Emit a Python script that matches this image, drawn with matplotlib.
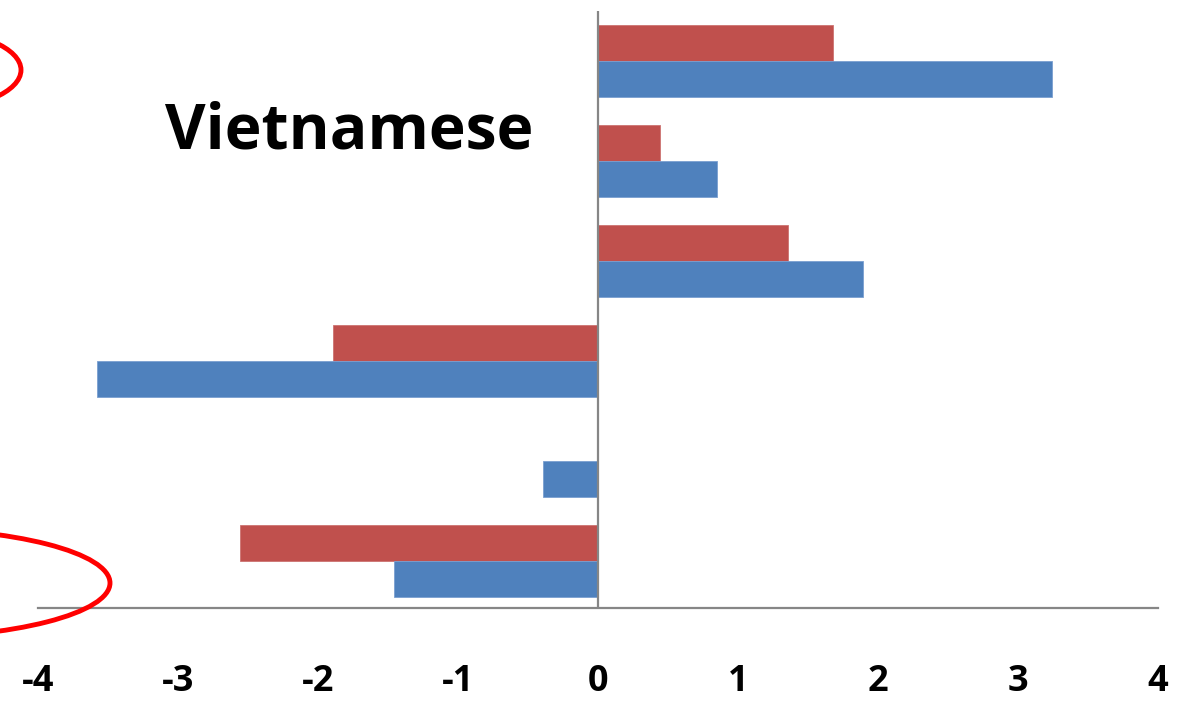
import numpy as np
import matplotlib
matplotlib.use("Agg")
import matplotlib.pyplot as plt
from matplotlib.patches import Ellipse

# valores por categoría (de arriba hacia abajo)
categorias = ["c1", "c2", "c3", "c4", "c5", "c6"]
serie_roja = [1.68, 0.44, 1.36, -1.89, 0.0, -2.56]
serie_azul = [3.24, 0.85, 1.89, -3.58, -0.39, -1.46]
ticks_x = [-4, -3, -2, -1, 0, 1, 2, 3, 4]

rojo = "#C0504D"
azul = "#4F81BD"
gris = "#868686"

W, H = 1180, 707
fig = plt.figure(figsize=(W / 100, H / 100), dpi=100)
ax = fig.add_axes([38 / W, 1 - 608 / H, 1120 / W, 597 / H])

pos = np.arange(len(categorias))
alto = 0.36
ax.barh(pos - alto / 2, serie_roja, height=alto, color=rojo,
        edgecolor="#CD7371", linewidth=0.6, zorder=2)
ax.barh(pos + alto / 2, serie_azul, height=alto, color=azul,
        edgecolor="#7A9FD0", linewidth=0.6, zorder=2)

ax.set_xlim(-4, 4)
ax.set_ylim(5.47, -0.5)
ax.axvline(0, color=gris, linewidth=1.6, zorder=3)

for lado in ["top", "right", "left"]:
    ax.spines[lado].set_visible(False)
ax.spines["bottom"].set_color(gris)
ax.spines["bottom"].set_linewidth(1.6)
ax.set_yticks([])
ax.set_xticks(ticks_x)
ax.set_xticklabels([str(t) for t in ticks_x], fontfamily="Open Sans",
                   fontweight="bold", fontsize=26)
ax.tick_params(axis="x", length=0, pad=40)

fig.text(165 / W, 1 - 132 / H, "Vietnamese", fontfamily="Open Sans",
         fontweight="bold", fontsize=45, va="center", ha="left")

# marcas a mano en rojo sobre el margen izquierdo
def elipse(cx, cy, a, b):
    e = Ellipse((cx / W, 1 - cy / H), 2 * a / W, 2 * b / H,
                transform=fig.transFigure, fill=False,
                edgecolor="#FF0000", linewidth=3.5, clip_on=False)
    fig.patches.append(e)

elipse(-74, 70, 95, 40)
elipse(-105, 583, 215, 55)

fig.savefig("out.png", dpi=100)
